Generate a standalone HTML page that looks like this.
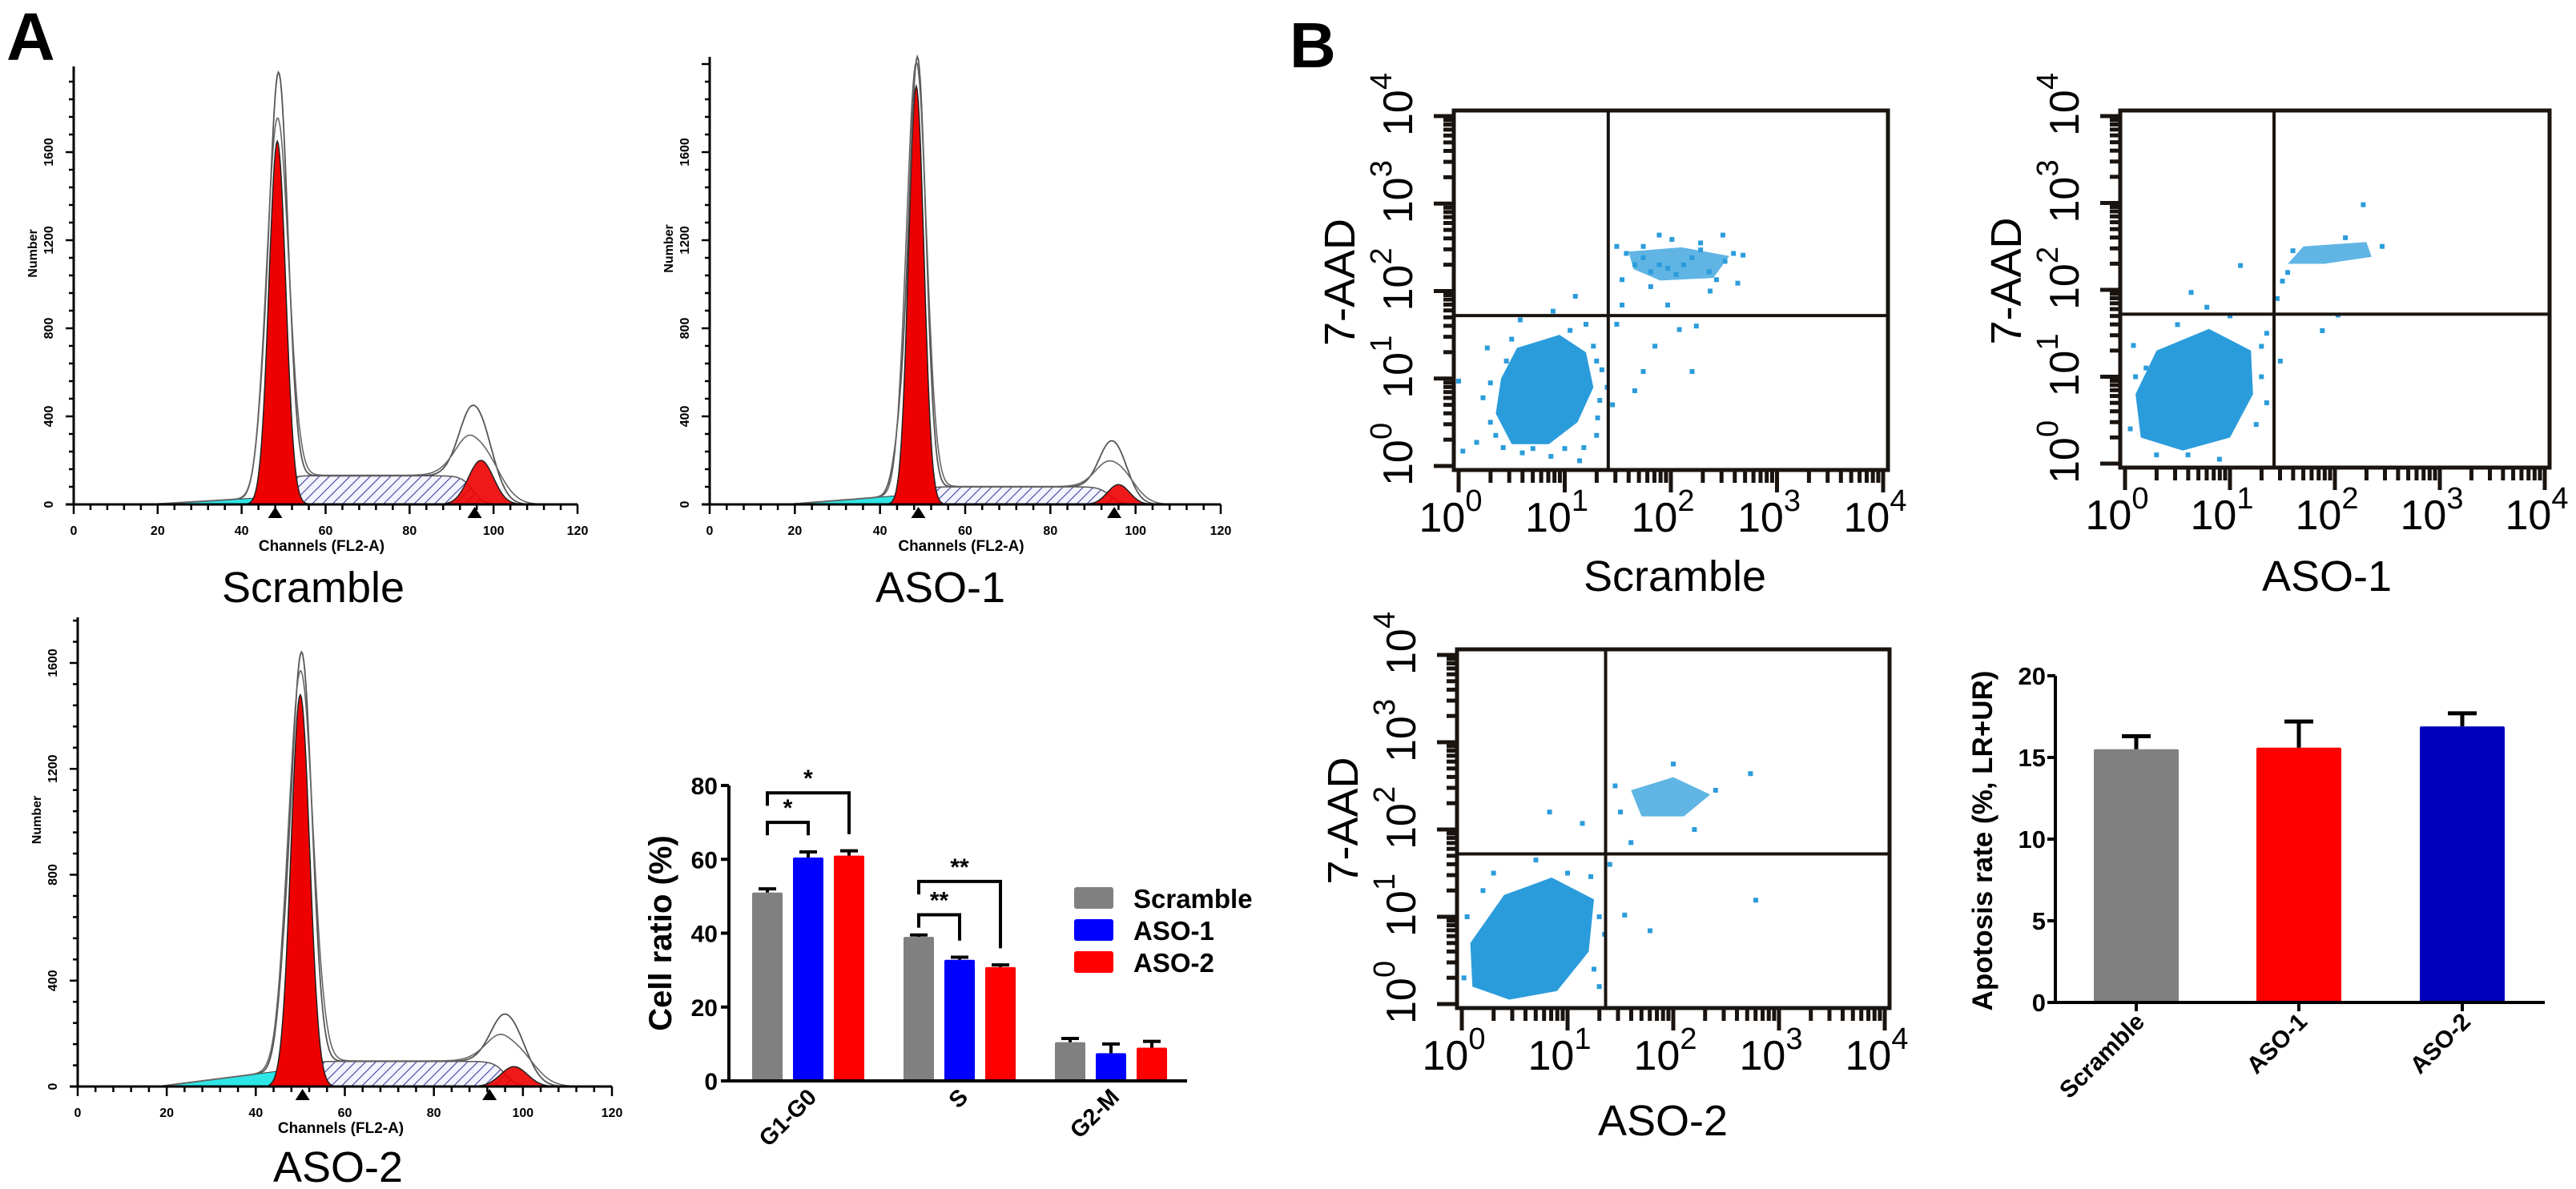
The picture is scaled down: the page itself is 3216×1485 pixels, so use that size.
<!DOCTYPE html>
<html><head><meta charset="utf-8"><style>
html,body{margin:0;padding:0;background:#fff;}
svg{display:block;font-family:"Liberation Sans",Arial,sans-serif;}
</style></head><body>
<svg id="fig" width="3216" height="1485" viewBox="0 0 3216 1485" xmlns="http://www.w3.org/2000/svg">
<defs>
<pattern id="hatch" patternUnits="userSpaceOnUse" width="9" height="9" patternTransform="rotate(45)">
<rect width="9" height="9" fill="#f4f4ff"/><line x1="0" y1="0" x2="0" y2="9" stroke="#4040a0" stroke-width="2.2"/>
</pattern>
</defs>
<text x="8" y="75" font-size="84" font-weight="bold">A</text>
<text x="1610" y="84" font-size="80" font-weight="bold">B</text>
<g id="root"></g>
</svg>
<script>
// ---------- DATA: cell-cycle histograms ----------
const histNames = ['Scramble','ASO-1','ASO-2'];
const g1Mean = [48.5, 48.5, 50];
const g1Height = [1650, 1900, 1480];
const g1Sd = [2.0, 1.8, 2.1];
const g2Mean = [97, 96, 98];
const g2Height = [200, 90, 75];
const g2Sd = [3.0, 2.6, 3.0];
const sLevel = [130, 80, 95];
const rawG1 = [1910, 1990, 1600];
const rawG2 = [400, 260, 235];
const debrisLevel = [30, 40, 60];
const markerG1 = [48, 49, 50.5];
const markerG2 = [95.5, 95, 92.5];
const histXTicks = [0,20,40,60,80,100,120];
const histYTicks = [0,400,800,1200,1600];

// ---------- DATA: cell ratio bar chart ----------
const phases = ['G1-G0','S','G2-M'];
const groups = ['Scramble','ASO-1','ASO-2'];
const ratioScramble = [51, 39, 10.5];
const ratioASO1 = [60.5, 32.8, 7.5];
const ratioASO2 = [61, 30.8, 9];
const errScramble = [1.0, 0.5, 1.0];
const errASO1 = [1.5, 0.7, 2.5];
const errASO2 = [1.3, 0.6, 1.7];
const ratioTicks = [0,20,40,60,80];
const bracketPhase = [0, 0, 1, 1];
const bracketTo = [1, 2, 1, 2];
const bracketLevel = [70, 78, 45, 54];
const bracketLabel = ['*','*','**','**'];

// ---------- DATA: apoptosis bar chart ----------
const apoGroups = ['Scramble','ASO-1','ASO-2'];
const apoRate = [15.5, 15.6, 16.9];
const apoErr = [0.8, 1.6, 0.8];
const apoTicks = [0,5,10,15,20];

// ---------- DATA: flow cytometry scatter (log decades) ----------
const flowNames = ['Scramble','ASO-1','ASO-2'];
const gateX = [1.41, 1.42, 1.36];
const gateY = [1.72, 1.72, 1.72];
const coreHull = [
 [[0.55,1.35],[0.95,1.5],[1.2,1.3],[1.27,0.9],[1.12,0.5],[0.85,0.25],[0.5,0.25],[0.35,0.6],[0.4,1.0]],
 [[0.3,1.3],[0.8,1.55],[1.2,1.3],[1.22,0.8],[1.0,0.3],[0.55,0.15],[0.15,0.3],[0.1,0.8]],
 [[0.4,1.25],[0.85,1.45],[1.25,1.2],[1.2,0.6],[0.9,0.15],[0.45,0.05],[0.1,0.2],[0.08,0.7]]
];
const urHull = [
 [[1.6,2.45],[2.1,2.5],[2.55,2.4],[2.4,2.15],[1.9,2.12],[1.65,2.25]],
 [[1.7,2.5],[2.3,2.55],[2.35,2.38],[1.9,2.3],[1.55,2.3]],
 [[1.6,2.45],[2.0,2.6],[2.35,2.4],[2.1,2.15],[1.7,2.15]]
];
const dots = [
 [[1.49,2.51],[1.58,2.43],[1.66,2.30],[1.74,2.38],[1.81,2.22],[1.89,2.30],[1.97,2.26],[2.05,2.19],[2.12,2.30],[2.20,2.38],[2.28,2.47],[2.36,2.22],[2.43,2.13],[2.51,2.34],[2.59,2.43],[2.68,2.41],[2.28,2.55],[1.89,2.64],[2.01,2.59],[1.74,2.51],[1.54,2.13],[1.81,2.05],[2.37,2.00],[2.63,2.09],[2.49,2.64],[1.10,1.94],[1.97,1.84],[1.54,1.84],[1.49,1.62],[1.85,1.37],[2.08,1.56],[2.24,1.60],[2.20,1.08],[1.66,0.86],[1.74,1.08],[1.45,0.70],[0.89,1.77],[0.58,1.67],[0.27,1.35],[0.0,0.97],[0.04,0.17],[0.17,0.27],[0.42,0.21],[0.87,0.11],[1.14,0.06],[1.18,0.21],[0.23,0.78],[1.31,0.55],[1.20,1.62],[1.27,1.37],[1.35,1.1],[1.4,0.9],[0.3,0.5],[0.45,1.2],[1.05,1.55],[1.3,0.35],[0.6,0.15],[0.5,1.45],[0.3,0.95],[0.35,0.35],[1.33,0.75],[1.3,1.2],[0.7,0.2],[1.0,0.2]],
 [[2.27,2.98],[1.1,2.28],[1.88,1.53],[1.48,1.18],[2.03,1.71],[0.78,1.8],[0.63,1.97],[0.08,1.36],[1.5,2.1],[1.6,2.45],[2.45,2.5],[1.45,1.9],[1.35,1.5],[1.3,1.0],[0.05,0.4],[0.3,0.1],[0.9,0.05],[1.35,0.7],[0.2,1.1],[0.5,1.6],[1.0,1.7],[1.55,2.2],[2.1,2.6],[0.1,1.0],[1.3,1.35],[1.25,0.45],[0.6,0.1]],
 [[2.73,2.64],[2.78,1.19],[1.54,1.02],[1.78,0.84],[0.83,2.2],[1.14,2.07],[1.22,1.46],[1.5,2.2],[2.4,2.45],[1.45,2.5],[2.2,2.0],[1.4,1.6],[1.35,0.8],[0.05,1.0],[0.3,1.5],[0.7,1.65],[1.3,0.2],[0.02,0.3],[1.6,1.85],[2.0,2.75],[1.3,1.0],[0.2,1.3],[1.0,1.5],[1.25,0.4]]
];
const logLabels = ['0','1','2','3','4'];

const NS='http://www.w3.org/2000/svg';
const root=document.getElementById('root');
function mk(tag,attrs,parent){const e=document.createElementNS(NS,tag);for(const k in attrs)e.setAttribute(k,attrs[k]);(parent||root).appendChild(e);return e;}
function grp(name,parent){const g=mk('g',{},parent);


return g;}
function pow10(t,s){const a=document.createTextNode('10');t.appendChild(a);const sp=document.createElementNS(NS,'tspan');sp.setAttribute('dy','-26');sp.setAttribute('font-size','38');sp.textContent=s;t.appendChild(sp);}

// ---------- Histograms ----------
const histLayout=[{x0:92,x120:721,base:630,y1600:190,top:83,tx:391,ty:752},{x0:886,x120:1524,base:630,y1600:190,top:71,tx:1174,ty:752},{x0:97,x120:764,base:1357,y1600:828,top:771,tx:422,ty:1476}];
function gauss(x,m,s){return Math.exp(-0.5*((x-m)/s)*((x-m)/s));}
function cdf(z){return 1/(1+Math.exp(-1.7*z));}
histNames.forEach((nm,i)=>{
 const L=histLayout[i];
 const g=grp('histogram-'+nm.toLowerCase());
 const X=c=>L.x0+c*(L.x120-L.x0)/120;
 const ppu=(L.base-L.y1600)/1600;
 const Y=n=>L.base-n*ppu;
 const sF=c=>sLevel[i]*cdf((c-g1Mean[i]-1.5)/1.6)*(1-cdf((c-g2Mean[i]+2)/2.2));
 const debF=c=>{const a=18,b=g1Mean[i]-4;if(c<a)return 0;if(c>b+2)return 0;return debrisLevel[i]*Math.min(1,(c-a)/(b-a))*(c>b?1-(c-b)/2:1);};
 const path=(f,a,b)=>{let d='M'+X(a)+','+Y(0);for(let c=a;c<=b;c+=0.25)d+=' L'+X(c).toFixed(1)+','+Y(f(c)).toFixed(1);d+=' L'+X(b)+','+Y(0)+'Z';return d;};
 const line=(f,a,b)=>{let d='';for(let c=a;c<=b;c+=0.25)d+=(d?' L':'M')+X(c).toFixed(1)+','+Y(f(c)).toFixed(1);return d;};
 let e;
 e=mk('path',{d:path(debF,16,g1Mean[i]),fill:'#2ee6e6',stroke:'#333','stroke-width':1},g);
 
 
 e=mk('path',{d:path(sF,g1Mean[i]-6,g2Mean[i]+8),fill:'url(#hatch)',stroke:'#555','stroke-width':1.5},g);
 
 
 e=mk('path',{d:path(c=>g1Height[i]*gauss(c,g1Mean[i],g1Sd[i]),g1Mean[i]-7,g1Mean[i]+7),fill:'#ee0000',stroke:'#222','stroke-width':1.5},g);
 
 
 e=mk('path',{d:path(c=>g2Height[i]*gauss(c,g2Mean[i],g2Sd[i]),g2Mean[i]-10,g2Mean[i]+10),fill:'#ee0000','fill-opacity':0.9,stroke:'#222','stroke-width':1.5},g);
 
 
 const raw1=c=>rawG1[i]*gauss(c,g1Mean[i]+0.3,g1Sd[i]*1.1)+0.12*rawG1[i]*gauss(c,g1Mean[i]-3.5,1.8)+sF(c)+debF(c)+rawG2[i]*gauss(c,g2Mean[i]-1,g2Sd[i]*1.2);
 const raw2=c=>g1Height[i]*1.05*gauss(c,g1Mean[i],g1Sd[i]*1.3)+sF(c)*1.02+debF(c)+rawG2[i]*0.65*gauss(c,g2Mean[i]-0.5,g2Sd[i]*1.5);
 e=mk('path',{d:line(raw1,10,112),fill:'none',stroke:'#555','stroke-width':1.8},g);
 
 
 e=mk('path',{d:line(raw2,10,112),fill:'none',stroke:'#666','stroke-width':1.6},g);
 
 
 e=mk('line',{x1:L.x0,y1:L.top,x2:L.x0,y2:L.base,stroke:'#000','stroke-width':3},g);
 
 
 e=mk('line',{x1:L.x0-10,y1:L.base,x2:L.x120,y2:L.base,stroke:'#000','stroke-width':3},g);
 
 
 for(let c=0;c<=120;c+=4){mk('line',{x1:X(c),y1:L.base,x2:X(c),y2:L.base+(c%20===0?12:7),stroke:'#000','stroke-width':2.5},g);}
 for(let n=0;Y(n)>=L.top;n+=80){mk('line',{x1:L.x0-(n%400===0?10:6),y1:Y(n),x2:L.x0,y2:Y(n),stroke:'#000','stroke-width':2.5},g);}
 histXTicks.forEach(t=>{e=mk('text',{x:X(t),y:L.base+38,'font-size':16,'font-weight':'bold','text-anchor':'middle'},g);e.textContent=t;
 
 });
 histYTicks.forEach(t=>{e=mk('text',{x:0,y:0,'font-size':16,'font-weight':'bold','text-anchor':'middle',transform:`translate(${L.x0-26},${Y(t)}) rotate(-90)`},g);e.textContent=t;
 
 });
 [markerG1[i],markerG2[i]].forEach(m=>{e=mk('polygon',{points:`${X(m)},${L.base+3} ${X(m)-9},${L.base+17} ${X(m)+9},${L.base+17}`,fill:'#000'},g);
 
 });
 e=mk('text',{x:(L.x0+L.x120)/2-5,y:L.base+58,'font-size':19,'font-weight':'bold','text-anchor':'middle'},g);e.textContent='Channels (FL2-A)';
 
 
 e=mk('text',{x:0,y:0,'font-size':16,'font-weight':'bold','text-anchor':'middle',transform:`translate(${L.x0-46},${(L.top+L.base)/2-40}) rotate(-90)`},g);e.textContent='Number';
 
 
 e=mk('text',{x:L.tx,y:L.ty,'font-size':54,'text-anchor':'middle'},g);e.textContent=nm;
 
 
});

// ---------- Cell ratio bar chart ----------
(function(){
 const g=grp('cell-ratio-chart');
 const y0=1350,ppu=369/80,ax=910,axEnd=1482;
 const Y=v=>y0-v*ppu;
 const centers=[1009,1198,1387];
 const offs=[-51,0,51];
 const vals=[ratioScramble,ratioASO1,ratioASO2],errs=[errScramble,errASO1,errASO2];
 const cols=['#808080','#0000ff','#ff0000'];
 let e;
 phases.forEach((p,pi)=>{
  groups.forEach((gn,gi)=>{
   const cx=centers[pi]+offs[gi],v=vals[gi][pi],er=errs[gi][pi];
   e=mk('rect',{x:cx-19,y:Y(v),width:38,height:y0-Y(v),fill:cols[gi],rx:2},g);
   
   
   e=mk('path',{d:`M${cx},${Y(v)} V${Y(v+er)} M${cx-11},${Y(v+er)} H${cx+11}`,stroke:'#000','stroke-width':4,fill:'none'},g);
   
   
  });
  e=mk('text',{x:0,y:0,'font-size':29,'font-weight':'bold','text-anchor':'end',transform:`translate(${centers[pi]+12},${y0+22}) rotate(-45)`},g);e.textContent=p;
  
  
 });
 bracketLabel.forEach((lb,bi)=>{
  const pi=bracketPhase[bi],to=bracketTo[bi],lv=bracketLevel[bi];
  const xa=centers[pi]+offs[0],xb=centers[pi]+offs[to];
  const endV=vals[to][pi]+errs[to][pi]+4.5;
  e=mk('path',{d:`M${xa},${Y(lv-3.5)} V${Y(lv)} H${xb} V${Y(endV)}`,stroke:'#000','stroke-width':4,fill:'none'},g);
  
  
  e=mk('text',{x:(xa+xb)/2,y:Y(lv)-8,'font-size':30,'font-weight':'bold','text-anchor':'middle'},g);e.textContent=lb;
  
  
 });
 e=mk('path',{d:`M${ax},${Y(80)} V${y0} H${axEnd}`,stroke:'#000','stroke-width':4,fill:'none'},g);
 
 
 ratioTicks.forEach(t=>{mk('line',{x1:ax-10,y1:Y(t),x2:ax,y2:Y(t),stroke:'#000','stroke-width':4},g);
  e=mk('text',{x:ax-14,y:Y(t)+11,'font-size':30,'font-weight':'bold','text-anchor':'end'},g);e.textContent=t;
  
  });
 e=mk('text',{x:0,y:0,'font-size':40,'font-weight':'bold','text-anchor':'middle',transform:`translate(${838},${Y(40)}) rotate(-90)`},g);e.textContent='Cell ratio (%)';
 
 
 groups.forEach((gn,gi)=>{
  e=mk('rect',{x:1341,y:1108+gi*40,width:49,height:27,fill:cols[gi],rx:3},g);
  
  
  e=mk('text',{x:1415,y:1134+gi*40,'font-size':33,'font-weight':'bold'},g);e.textContent=gn;
  
  
 });
})();

// ---------- Apoptosis bar chart ----------
(function(){
 const g=grp('apoptosis-chart');
 const y0=1252,ppu=408/20,ax=2566,axEnd=3177;
 const Y=v=>y0-v*ppu;
 const centers=[2667,2870,3074];
 const cols=['#808080','#ff0000','#0000bb'];
 let e;
 apoGroups.forEach((gn,i)=>{
  const cx=centers[i];
  e=mk('rect',{x:cx-53,y:Y(apoRate[i]),width:106,height:y0-Y(apoRate[i]),fill:cols[i],rx:2},g);
  
  
  e=mk('path',{d:`M${cx},${Y(apoRate[i])} V${Y(apoRate[i]+apoErr[i])} M${cx-18},${Y(apoRate[i]+apoErr[i])} H${cx+18}`,stroke:'#000','stroke-width':5,fill:'none'},g);
  
  
  mk('line',{x1:cx,y1:y0,x2:cx,y2:y0+11,stroke:'#000','stroke-width':4},g);
  e=mk('text',{x:0,y:0,'font-size':30,'font-weight':'bold','text-anchor':'end',transform:`translate(${cx+12},${y0+26}) rotate(-45)`},g);e.textContent=gn;
  
  
 });
 e=mk('path',{d:`M${ax},${Y(20)} V${y0} H${axEnd}`,stroke:'#000','stroke-width':4,fill:'none'},g);
 
 
 apoTicks.forEach(t=>{mk('line',{x1:ax-10,y1:Y(t),x2:ax,y2:Y(t),stroke:'#000','stroke-width':4},g);
  e=mk('text',{x:ax-12,y:Y(t)+11,'font-size':31,'font-weight':'bold','text-anchor':'end'},g);e.textContent=t;
  
  });
 e=mk('text',{x:0,y:0,'font-size':35,'font-weight':'bold','text-anchor':'middle',transform:`translate(${2487},${1050}) rotate(-90)`},g);e.textContent='Apotosis rate (%, LR+UR)';
 
 
})();

// ---------- Flow plots ----------
const flowBox=[[1815,138,2357,587,2091,738],[2647,138,3183,584,2905,738],[1819,811,2359,1259,2076,1418]];
flowNames.forEach((nm,i)=>{
 const [l,t,r,b,tx,ty]=flowBox[i];
 const g=grp('flow-plot-'+nm.toLowerCase());
 const x0=l+6,x4=r-6,y0=b-5,y4=t+7;
 const X=d=>x0+d*(x4-x0)/4, Y=d=>y0-d*(y0-y4)/4;
 let e;
 const poly=h=>h.map(p=>X(p[0]).toFixed(1)+','+Y(p[1]).toFixed(1)).join(' ');
 e=mk('polygon',{points:poly(coreHull[i]),fill:'#2b9cdb'},g);
 
 
 e=mk('polygon',{points:poly(urHull[i]),fill:'#2b9cdb','fill-opacity':0.75},g);
 
 
 dots[i].forEach(p=>{e=mk('rect',{x:X(p[0])-3,y:Y(p[1])-3,width:6,height:6,fill:'#2b9cdb'},g);
  
  });
 e=mk('rect',{x:l,y:t,width:r-l,height:b-t,fill:'none',stroke:'#1a1410','stroke-width':5},g);
 
 
 e=mk('line',{x1:X(gateX[i]),y1:t,x2:X(gateX[i]),y2:b,stroke:'#1a1410','stroke-width':4},g);
 
 
 e=mk('line',{x1:l,y1:Y(gateY[i]),x2:r,y2:Y(gateY[i]),stroke:'#1a1410','stroke-width':4},g);
 
 
 for(let d=0;d<4;d++)for(let k=1;k<=10;k++){
  const v=d+Math.log10(k);if(k===10&&d<3)continue;
  const maj=(k===1||k===10);
  mk('line',{x1:X(v),y1:b+2,x2:X(v),y2:b+(maj?28:16),stroke:'#1a1410','stroke-width':5},g);
  mk('line',{x1:l-2,y1:Y(v),x2:l-(maj?25:13),y2:Y(v),stroke:'#1a1410','stroke-width':5},g);
 }
 logLabels.forEach((s,d)=>{
  e=mk('text',{x:X(d)-10,y:b+77,'font-size':52,'text-anchor':'middle'},g);
  pow10(e,s);
  
  
  const yb=Y(d)+25;
  e=mk('text',{x:0,y:0,'font-size':52,transform:`translate(${l-52},${yb}) rotate(-90)`},g);
  e.textContent='10';
  
  
  e=mk('text',{x:0,y:0,'font-size':38,transform:`translate(${l-78},${yb-58}) rotate(-90)`},g);
  e.textContent=s;
  
  
 });
 e=mk('text',{x:0,y:0,'font-size':54,'text-anchor':'middle',transform:`translate(${l-124},${(t+b)/2-10}) rotate(-90)`},g);e.textContent='7-AAD';
 
 
 e=mk('text',{x:tx,y:ty,'font-size':54,'text-anchor':'middle'},g);e.textContent=nm;
 
 
});
</script>
</body></html>
